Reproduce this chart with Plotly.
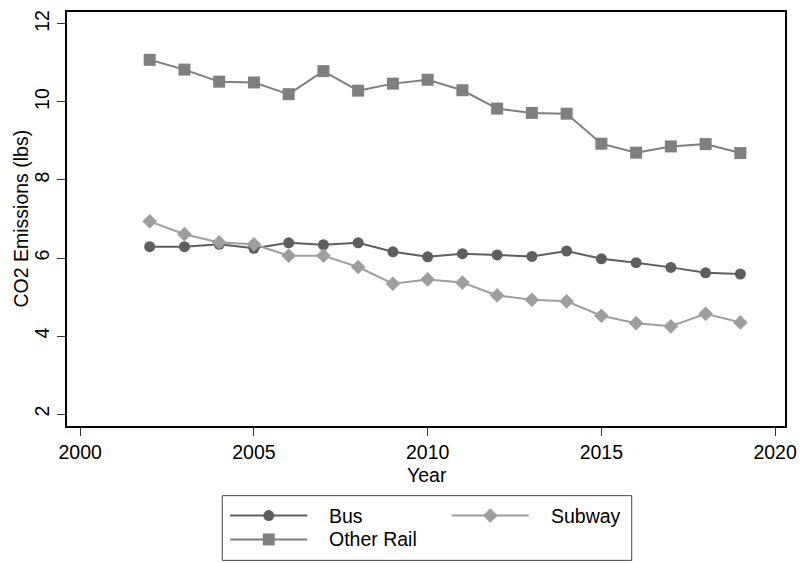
import plotly.graph_objects as go

# Annual CO2 emissions per trip by transit mode
years = list(range(2002, 2020))
bus = [6.29, 6.29, 6.35, 6.25, 6.39, 6.34, 6.39, 6.16, 6.03, 6.11,
       6.08, 6.04, 6.18, 5.98, 5.88, 5.76, 5.62, 5.59]
subway = [6.94, 6.61, 6.40, 6.35, 6.06, 6.06, 5.77, 5.34, 5.45, 5.37,
          5.04, 4.93, 4.89, 4.52, 4.33, 4.25, 4.57, 4.35]
other_rail = [11.08, 10.83, 10.52, 10.50, 10.20, 10.79, 10.29, 10.47, 10.57, 10.30,
              9.83, 9.72, 9.70, 8.93, 8.70, 8.86, 8.92, 8.69]

x_ticks = [2000, 2005, 2010, 2015, 2020]
y_ticks = [2, 4, 6, 8, 10, 12]

W, H = 807, 563
ML, MR, MT, MB = 67, 14, 10, 137
FONT = "Liberation Sans, Arial, Helvetica, sans-serif"
FS = 19.5

BUS_C = "#5e5e5e"
SUB_C = "#9e9e9e"
RAIL_C = "#7f7f7f"

series = [
    ("Bus", bus, BUS_C, "circle", 11),
    ("Subway", subway, SUB_C, "diamond", 11.3),
    ("Other Rail", other_rail, RAIL_C, "square", 12),
]

fig = go.Figure()
for name, vals, col, sym, sz in series:
    fig.add_trace(go.Scatter(
        x=years, y=vals, name=name, mode="lines+markers",
        line=dict(color=col, width=2),
        marker=dict(symbol=sym, size=sz, color=col, line=dict(width=0)),
        showlegend=False,
    ))

pw, ph = W - ML - MR, H - MT - MB


def px(x):
    return (x - ML) / pw


def py(y):
    return (H - MB - y) / ph


shapes = []
annotations = []

# axis titles
annotations.append(dict(xref="paper", yref="paper", x=0.5 * (px(80) + px(783)), y=py(462),
                        text="Year", showarrow=False, xanchor="center", yanchor="top",
                        font=dict(family=FONT, size=FS, color="black")))
annotations.append(dict(xref="paper", yref="paper", x=px(20), y=py(218),
                        text="CO2 Emissions (lbs)", showarrow=False, textangle=-90,
                        xanchor="center", yanchor="middle",
                        font=dict(family=FONT, size=FS, color="black")))

# legend frame
shapes.append(dict(type="rect", xref="paper", yref="paper",
                   x0=px(224), x1=px(638), y0=py(561), y1=py(496),
                   line=dict(color="#444444", width=1), fillcolor="white"))

legend_items = [
    ("Bus", BUS_C, "circle", 11, 232, 516),
    ("Subway", SUB_C, "diamond", 11.3, 456, 516),
    ("Other Rail", RAIL_C, "square", 12, 232, 540),
]
for name, col, sym, sz, lx, ly in legend_items:
    shapes.append(dict(type="line", xref="paper", yref="paper",
                       x0=px(lx), x1=px(lx + 78), y0=py(ly), y1=py(ly),
                       line=dict(color=col, width=2)))
    cx = lx + 39
    if sym == "circle":
        r = sz / 2
        shapes.append(dict(type="circle", xref="paper", yref="paper",
                           x0=px(cx - r), x1=px(cx + r), y0=py(ly + r), y1=py(ly - r),
                           fillcolor=col, line=dict(width=0)))
    elif sym == "square":
        r = sz / 2
        shapes.append(dict(type="rect", xref="paper", yref="paper",
                           x0=px(cx - r), x1=px(cx + r), y0=py(ly + r), y1=py(ly - r),
                           fillcolor=col, line=dict(width=0)))
    else:
        r = sz * 0.65
        path = "M {},{} L {},{} L {},{} L {},{} Z".format(
            px(cx - r), py(ly), px(cx), py(ly - r), px(cx + r), py(ly), px(cx), py(ly + r))
        shapes.append(dict(type="path", xref="paper", yref="paper", path=path,
                           fillcolor=col, line=dict(width=0)))
    annotations.append(dict(xref="paper", yref="paper", x=px(lx + 98), y=py(ly),
                            text=name, showarrow=False, xanchor="left", yanchor="middle",
                            font=dict(family=FONT, size=FS, color="black")))

fig.update_layout(
    width=W, height=H,
    margin=dict(l=ML, r=MR, t=MT, b=MB),
    paper_bgcolor="white", plot_bgcolor="white",
    font=dict(family=FONT, size=FS, color="black"),
    showlegend=False,
    shapes=shapes,
    annotations=annotations,
    xaxis=dict(
        range=[1999.62, 2020.285], tickvals=x_ticks,
        ticks="outside", ticklen=8, tickwidth=1, tickcolor="#333333",
        showgrid=False, zeroline=False,
        showline=True, mirror=True, linecolor="black", linewidth=2,
        tickfont=dict(size=FS),
    ),
    yaxis=dict(
        range=[1.694, 12.306], tickvals=y_ticks,
        ticks="outside", ticklen=8, tickwidth=1, tickcolor="#333333",
        tickangle=-90,
        showgrid=False, zeroline=False,
        showline=True, mirror=True, linecolor="black", linewidth=2,
        tickfont=dict(size=FS),
    ),
)

fig.write_html("out.html")
